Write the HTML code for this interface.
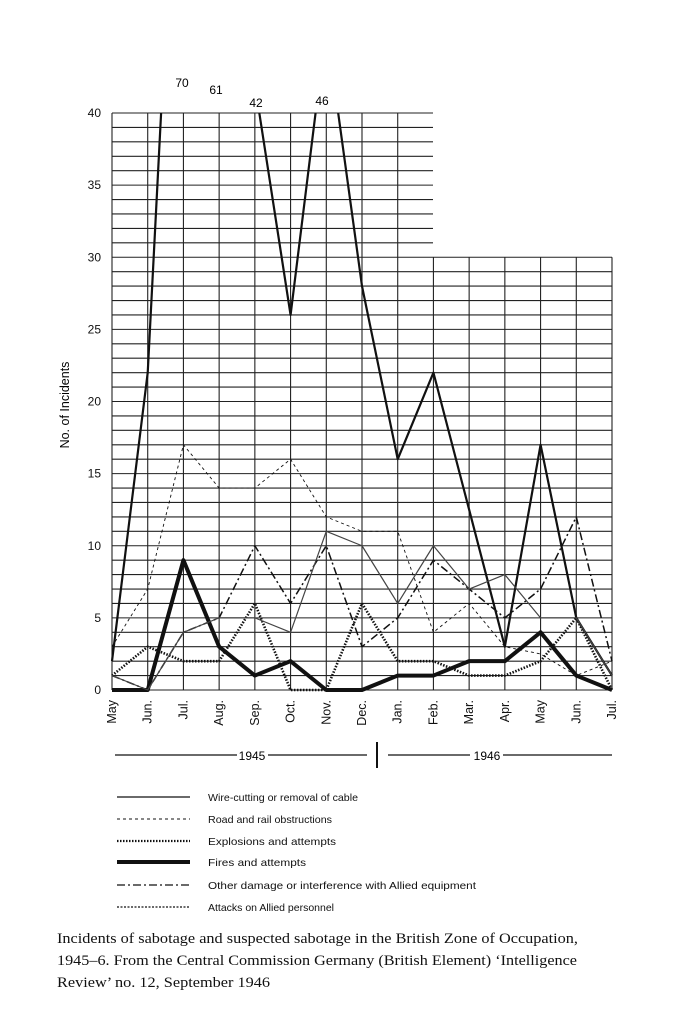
<!DOCTYPE html><html><head><style>body{margin:0;background:#fff}svg{display:block}</style></head><body>
<svg width="683" height="1024" viewBox="0 0 683 1024" xmlns="http://www.w3.org/2000/svg" font-family="Liberation Sans, sans-serif">
<defs><clipPath id="c"><rect x="100" y="113" width="530" height="590"/></clipPath></defs>
<g stroke="#222" stroke-width="1.1" id="grid"></g>
<g id="ser" clip-path="url(#c)" fill="none" stroke="#111" stroke-linejoin="round"></g>
<g font-size="12" fill="#111" text-anchor="end" id="yl"></g>
<g font-size="12.5" fill="#111" id="ml"></g>
<text x="182" y="87" font-size="12" text-anchor="middle">70</text>
<text x="216" y="94" font-size="12" text-anchor="middle">61</text>
<text x="256" y="107" font-size="12" text-anchor="middle">42</text>
<text x="322" y="105" font-size="12" text-anchor="middle">46</text>
<text transform="translate(69,405) rotate(-90)" font-size="12.5" text-anchor="middle">No. of Incidents</text>
<g stroke="#111" stroke-width="1.2">
<line x1="115" y1="755" x2="237" y2="755"/><line x1="268" y1="755" x2="367" y2="755"/>
<line x1="377" y1="742" x2="377" y2="768" stroke-width="2"/>
<line x1="388" y1="755" x2="470" y2="755"/><line x1="503" y1="755" x2="612" y2="755"/></g>
<text x="252" y="760" font-size="12" text-anchor="middle">1945</text>
<text x="487" y="760" font-size="12" text-anchor="middle">1946</text>
<g stroke="#111" fill="none">
<line x1="117" y1="797" x2="190" y2="797" stroke-width="1.3"/>
<line x1="117" y1="819" x2="190" y2="819" stroke-width="0.9" stroke-dasharray="3,3"/>
<line x1="117" y1="841" x2="190" y2="841" stroke-width="2.2" stroke-dasharray="1.5,1.5"/>
<line x1="117" y1="862" x2="190" y2="862" stroke-width="4"/>
<line x1="117" y1="885" x2="190" y2="885" stroke-width="1.3" stroke-dasharray="8,3,2,3"/>
<line x1="117" y1="907" x2="190" y2="907" stroke-width="1.2" stroke-dasharray="2,1.5"/>
</g>
<g font-size="10.5" fill="#111" lengthAdjust="spacingAndGlyphs">
<text x="208" y="801" textLength="150" lengthAdjust="spacingAndGlyphs">Wire-cutting or removal of cable</text>
<text x="208" y="823" textLength="124" lengthAdjust="spacingAndGlyphs">Road and rail obstructions</text>
<text x="208" y="845" textLength="128" lengthAdjust="spacingAndGlyphs">Explosions and attempts</text>
<text x="208" y="866" textLength="98" lengthAdjust="spacingAndGlyphs">Fires and attempts</text>
<text x="208" y="889" textLength="268" lengthAdjust="spacingAndGlyphs">Other damage or interference with Allied equipment</text>
<text x="208" y="911" textLength="126" lengthAdjust="spacingAndGlyphs">Attacks on Allied personnel</text>
</g>
<g font-family="Liberation Serif, serif" font-size="15" fill="#111">
<text x="57" y="943" textLength="521" lengthAdjust="spacingAndGlyphs">Incidents of sabotage and suspected sabotage in the British Zone of Occupation,</text>
<text x="57" y="965" textLength="520" lengthAdjust="spacingAndGlyphs">1945–6. From the Central Commission Germany (British Element) ‘Intelligence</text>
<text x="57" y="987" textLength="213" lengthAdjust="spacingAndGlyphs">Review’ no. 12, September 1946</text>
</g>
<script>
var X=i=>112+i*35.714, Y=v=>690-v*14.425, ns="http://www.w3.org/2000/svg";
function el(p,t,a,txt){var e=document.createElementNS(ns,t);for(var k in a)e.setAttribute(k,a[k]);if(txt!=null)e.textContent=txt;document.getElementById(p).appendChild(e);}
for(var v=0;v<=40;v++){el('grid','line',{x1:112,x2:v<=30?612:433,y1:Y(v),y2:Y(v)});}
for(var i=0;i<15;i++){el('grid','line',{x1:X(i),x2:X(i),y1:i<=8?Y(40):Y(30),y2:Y(0)});}
for(var v=0;v<=40;v+=5)el('yl','text',{x:101,y:Y(v)+4},String(v));
var m=["May","Jun.","Jul.","Aug.","Sep.","Oct.","Nov.","Dec.","Jan.","Feb.","Mar.","Apr.","May","Jun.","Jul."];
m.forEach((s,i)=>el('ml','text',{transform:"translate("+(X(i)+4)+",700) rotate(-90)","text-anchor":"end"},s));
var S=[
[[2,22,70,61,42,26,46,28,16,22,12.5,3,17,5,1],{"stroke-width":2.2}],
[[3,7,17,14,14,16,12,11,11,4,6,3,2.5,1,2],{"stroke-width":0.9,"stroke-dasharray":"3,3"}],
[[1,3,2,2,6,0,0,6,2,2,1,1,2,5,0],{"stroke-width":2.6,"stroke-dasharray":"1.5,1.5"}],
[[0,0,9,3,1,2,0,0,1,1,2,2,4,1,0],{"stroke-width":4}],
[[1,0,4,5,10,6,10,3,5,9,7,5,7,12,2],{"stroke-width":1.5,"stroke-dasharray":"8,3,2,3"}],
[[1,0,4,5,5,4,11,10,6,10,7,8,5,5,1],{"stroke-width":1.2,"stroke":"#444"}]];
S.forEach(s=>{var a=s[1];a.points=s[0].map((v,i)=>X(i)+","+Y(v)).join(" ");el('ser','polyline',a);});
</script>
</svg></body></html>
